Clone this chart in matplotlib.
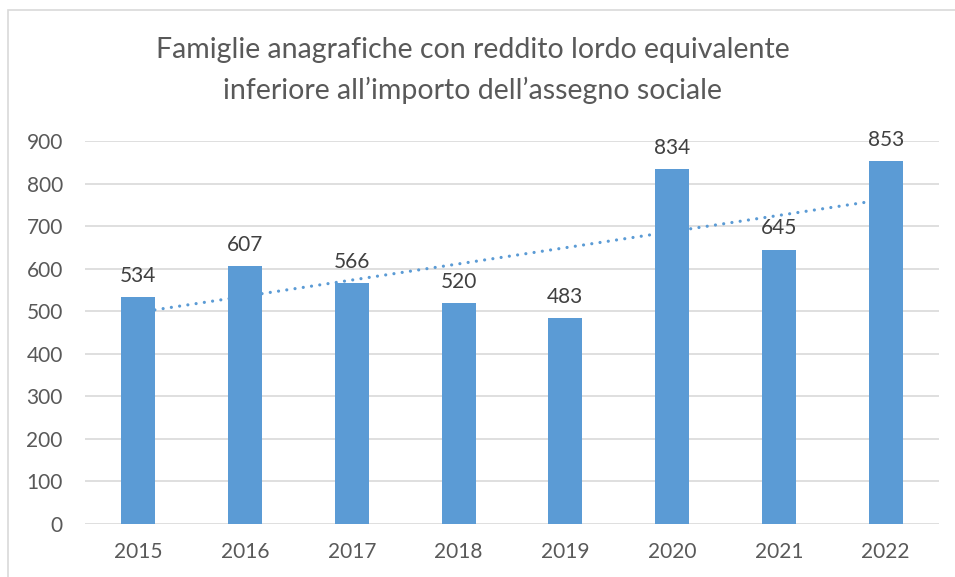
import matplotlib.pyplot as plt
import numpy as np
from matplotlib.patches import Rectangle

# data
anni = ['2015', '2016', '2017', '2018', '2019', '2020', '2021', '2022']
famiglie = [534, 607, 566, 520, 483, 834, 645, 853]
yticks = [0, 100, 200, 300, 400, 500, 600, 700, 800, 900]

plt.rcParams['font.family'] = ['Lato', 'DejaVu Sans']

fig = plt.figure(figsize=(9.55, 5.77), dpi=100)
ax = fig.add_axes([85/955, 1-524/577, (939-85)/955, (524-141)/577])

x = np.arange(len(anni))
bars = ax.bar(x, famiglie, width=0.32, color='#5B9BD5', zorder=3)

# linear trend line (dotted), behind the bars
coef = np.polyfit(x, famiglie, 1)
ax.plot(x, np.polyval(coef, x), linestyle=(0, (0.01, 2.6)), linewidth=2.3,
        color='#5B9BD5', zorder=2, dash_capstyle='round')

for xi, v in zip(x, famiglie):
    ax.annotate(str(v), (xi, v), xytext=(0, 8), textcoords='offset points',
                ha='center', va='bottom', fontsize=15, color='#404040')

ax.set_xlim(-0.5, len(anni) - 0.5)
ax.set_ylim(0, 900)
ax.set_yticks(yticks)
ax.set_xticks(x)
ax.set_xticklabels(anni)
ax.grid(axis='y', color='#D9D9D9', linewidth=1.2, zorder=0)
for s in ax.spines.values():
    s.set_visible(False)
ax.tick_params(length=0, labelsize=15, labelcolor='#595959')
ax.tick_params(axis='x', pad=13)
ax.tick_params(axis='y', pad=16)

fig.text(0.495, 1-50/577, 'Famiglie anagrafiche con reddito lordo equivalente',
         ha='center', va='center', fontsize=20.5, color='#595959')
fig.text(0.495, 1-90/577, 'inferiore all\u2019importo dell\u2019assegno sociale',
         ha='center', va='center', fontsize=20.5, color='#595959')

# chart border
fig.add_artist(Rectangle((8/955, -0.05), 1.0, 1-10/577+0.05, transform=fig.transFigure,
                         fill=False, edgecolor='#D9D9D9', linewidth=1.2))

fig.savefig('out.png', dpi=100)
